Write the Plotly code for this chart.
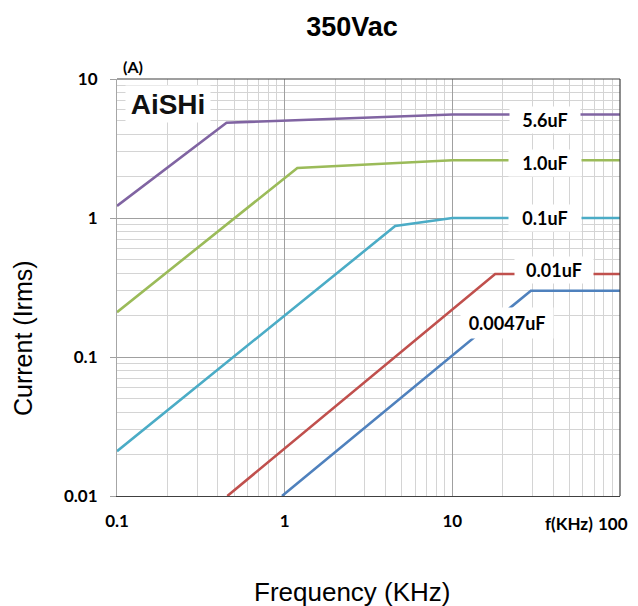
import plotly.graph_objects as go

# ---- data ----
cap_names = ["5.6uF", "1.0uF", "0.1uF", "0.01uF", "0.0047uF"]
cap_colors = ["#8064a2", "#9bbb59", "#4bacc6", "#c0504d", "#4f81bd"]

f_56 = [0.1, 0.45, 10, 100]
i_56 = [1.22, 4.85, 5.55, 5.55]
f_10 = [0.1, 1.19, 10, 100]
i_10 = [0.21, 2.29, 2.6, 2.6]
f_01 = [0.1, 4.56, 10, 100]
i_01 = [0.021, 0.875, 1.0, 1.0]
f_001 = [0.455, 18.0, 100]
i_001 = [0.01, 0.395, 0.395]
f_0047 = [0.964, 29.4, 100]
i_0047 = [0.01, 0.30, 0.30]

x_ticks = [0.1, 1, 10, 100]
x_ticktext = ["0.1", "1", "10", "100"]
y_ticks = [0.01, 0.1, 1, 10]
y_ticktext = ["0.01", "0.1", "1", "10"]

series_f = [f_56, f_10, f_01, f_001, f_0047]
series_i = [i_56, i_10, i_01, i_001, i_0047]

minor_x = [m * 10 ** e for e in (-1, 0, 1) for m in range(2, 10)]
minor_y = [m * 10 ** e for e in (-2, -1, 0) for m in range(2, 10)]

# page has an 8px body margin; figure is placed at (8, 8) in the window
OFF = 8
W, H = 638, 598
L, R, T, B = 117 - OFF, W - (620 - OFF), 79 - OFF, H - (496 - OFF)

fig = go.Figure()
for name, col, fx, iy in zip(cap_names, cap_colors, series_f, series_i):
    fig.add_trace(go.Scatter(x=fx, y=iy, mode="lines", name=name,
                             line=dict(color=col, width=2.6)))

tickfont = dict(family="Lato", size=17, color="black", weight="bold")
fig.update_layout(
    width=W, height=H,
    margin=dict(l=L, r=R, t=T, b=B, autoexpand=False),
    paper_bgcolor="white", plot_bgcolor="white",
    showlegend=False,
    title=dict(text="350Vac", x=(352 - OFF) / W, xref="container", xanchor="center",
               y=1 - (27 - OFF) / H, yref="container", yanchor="middle",
               font=dict(family="Liberation Sans", size=27, color="black", weight="bold")),
    xaxis=dict(type="log", range=[-1, 2], tickmode="array", tickvals=x_ticks,
               ticktext=x_ticktext[:-1] + [""], tickfont=tickfont, ticks="",
               ticklabelstandoff=9,
               showgrid=True, gridcolor="#a0a0a0", gridwidth=1,
               minor=dict(tickmode="array", tickvals=minor_x, showgrid=True,
                          gridcolor="#d4d4d4", gridwidth=1, ticks=""),
               showline=True, linecolor="#404040", linewidth=1.2, zeroline=False),
    yaxis=dict(type="log", range=[-2, 1], tickmode="array", tickvals=y_ticks,
               ticktext=y_ticktext, tickfont=tickfont, ticks="outside",
               ticklen=6, tickcolor="#a0a0a0", ticklabelstandoff=9,
               showgrid=True, gridcolor="#a0a0a0", gridwidth=1,
               minor=dict(tickmode="array", tickvals=minor_y, showgrid=True,
                          gridcolor="#d4d4d4", gridwidth=1, ticks=""),
               showline=True, linecolor="#a6a6a6", linewidth=1.2, zeroline=False),
)

# border top / right
fig.add_shape(type="line", xref="x domain", yref="y domain", x0=0, x1=1, y0=1, y1=1,
              line=dict(color="#404040", width=1.2))
fig.add_shape(type="line", xref="x domain", yref="y domain", x0=1, x1=1, y0=0, y1=1,
              line=dict(color="#404040", width=1.2))

def px(x):
    return (x - 117) / 503

def py(y):
    return (496 - y) / 417

def note(text, x, y, font, **kw):
    fig.add_annotation(text=text, x=px(x), y=py(y), xref="paper", yref="paper",
                       showarrow=False, font=font, xanchor=kw.pop("xanchor", "center"),
                       yanchor="middle", **kw)

lab_font = dict(family="Lato", size=18, color="black", weight="bold")
label_pos = [(545, 120, 70, 26), (545, 163, 72, 26), (545, 218, 72, 26),
             (554, 270, 78, 26), (507, 323, 92, 30)]
for name, (lx, ly, w, h) in zip(cap_names, label_pos):
    note(name, lx, ly, lab_font, bgcolor="white", width=w, height=h, borderpad=0)

# logo
note("AiSHi", 168, 104,
     dict(family="Liberation Sans", size=28, color="#111111", weight="bold"),
     bgcolor="white", width=84, height=36, borderpad=0)
# unit label
note("(A)", 133, 67, dict(family="Lato", size=16, color="black", weight="bold"))
# last x tick label and f(KHz), kept inside the visible page edge
note(x_ticktext[-1], 629, 523, tickfont, xanchor="right", borderpad=0)
note("f(KHz)", 594, 523, tickfont, xanchor="right", borderpad=0)
# axis titles
note("Frequency (KHz)", 352, 592, dict(family="Liberation Sans", size=26, color="black"))
note("Current (Irms)", 23, 338, dict(family="Liberation Sans", size=25, color="black"),
     textangle=-90)

fig.write_html("out.html")
